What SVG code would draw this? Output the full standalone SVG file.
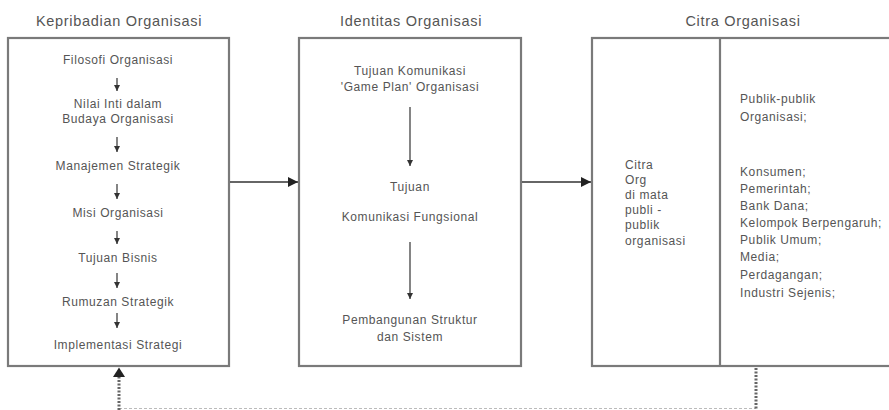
<svg xmlns="http://www.w3.org/2000/svg" width="889" height="410" viewBox="0 0 889 410">
<defs>
<marker id="big" viewBox="0 0 10 10" refX="10" refY="5" markerWidth="10" markerHeight="10" markerUnits="userSpaceOnUse" orient="auto"><path d="M0,0 L10,5 L0,10 Z" fill="#222"/></marker>
<marker id="small" viewBox="0 0 10 10" refX="10" refY="5" markerWidth="6" markerHeight="6" markerUnits="userSpaceOnUse" orient="auto"><path d="M0,0 L10,5 L0,10 Z" fill="#333"/></marker>
</defs>
<style>
.box{fill:#fff;stroke:#7a7a7a;stroke-width:2.2}
.title{font-family:"Liberation Sans",Arial,sans-serif;font-size:14.5px;letter-spacing:0.7px;fill:#555;text-anchor:middle}
.t{font-family:"Liberation Sans",Arial,sans-serif;font-size:12px;letter-spacing:0.6px;fill:#555}
.c{text-anchor:middle}
.ln{stroke:#333;stroke-width:1.2;fill:none}
.con{stroke:#333;stroke-width:1.5;fill:none}
.dash{stroke:#666;stroke-width:3;stroke-dasharray:2 1.5;fill:none}
.hdash{stroke:#bbb;stroke-width:1;stroke-dasharray:3 2;fill:none}
</style>
<rect width="889" height="410" fill="#fff"/>

<g id="kepribadian">
<text class="title" x="119" y="26">Kepribadian Organisasi</text>
<rect class="box" x="8" y="38" width="221" height="328"/>
<text class="t c" x="118" y="64">Filosofi Organisasi</text>
<line class="ln" x1="117" y1="78" x2="117" y2="91" marker-end="url(#small)"/>
<text class="t c" x="118" y="108">Nilai Inti dalam</text>
<text class="t c" x="118" y="123">Budaya Organisasi</text>
<line class="ln" x1="117" y1="137" x2="117" y2="152" marker-end="url(#small)"/>
<text class="t c" x="118" y="170">Manajemen Strategik</text>
<line class="ln" x1="117" y1="184" x2="117" y2="199" marker-end="url(#small)"/>
<text class="t c" x="118" y="217">Misi Organisasi</text>
<line class="ln" x1="117" y1="231" x2="117" y2="244" marker-end="url(#small)"/>
<text class="t c" x="118" y="262">Tujuan Bisnis</text>
<line class="ln" x1="117" y1="273" x2="117" y2="288" marker-end="url(#small)"/>
<text class="t c" x="118" y="306">Rumuzan Strategik</text>
<line class="ln" x1="117" y1="313" x2="117" y2="328" marker-end="url(#small)"/>
<text class="t c" x="118" y="349">Implementasi Strategi</text>
</g>

<g id="identitas">
<text class="title" x="411" y="26">Identitas Organisasi</text>
<rect class="box" x="299" y="38" width="222" height="328"/>
<text class="t c" x="410" y="75">Tujuan Komunikasi</text>
<text class="t c" x="410" y="91">'Game Plan' Organisasi</text>
<line class="ln" x1="410" y1="107" x2="410" y2="166" marker-end="url(#small)"/>
<text class="t c" x="410" y="191">Tujuan</text>
<text class="t c" x="410" y="221">Komunikasi Fungsional</text>
<line class="ln" x1="410" y1="242" x2="410" y2="299" marker-end="url(#small)"/>
<text class="t c" x="410" y="324">Pembangunan Struktur</text>
<text class="t c" x="410" y="341">dan Sistem</text>
</g>

<g id="citra">
<text class="title" x="743" y="26">Citra Organisasi</text>
<rect class="box" x="592" y="38" width="310" height="328"/>
<line class="box" x1="720" y1="38" x2="720" y2="366"/>
<text class="t" x="625" y="169">Citra</text>
<text class="t" x="625" y="184">Org</text>
<text class="t" x="625" y="199">di mata</text>
<text class="t" x="625" y="214">publi -</text>
<text class="t" x="625" y="229">publik</text>
<text class="t" x="625" y="245">organisasi</text>
<text class="t" x="740" y="103">Publik-publik</text>
<text class="t" x="740" y="121">Organisasi;</text>
<text class="t" x="740" y="176">Konsumen;</text>
<text class="t" x="740" y="193">Pemerintah;</text>
<text class="t" x="740" y="210">Bank Dana;</text>
<text class="t" x="740" y="227">Kelompok Berpengaruh;</text>
<text class="t" x="740" y="244">Publik Umum;</text>
<text class="t" x="740" y="261">Media;</text>
<text class="t" x="740" y="279">Perdagangan;</text>
<text class="t" x="740" y="297">Industri Sejenis;</text>
</g>

<g id="connectors">
<line class="con" x1="230" y1="182" x2="298" y2="182" marker-end="url(#big)"/>
<line class="con" x1="522" y1="182" x2="591" y2="182" marker-end="url(#big)"/>
<line class="hdash" x1="119" y1="408.5" x2="756" y2="408.5"/>
<line class="dash" x1="756" y1="368" x2="756" y2="410"/>
<line class="dash" x1="119" y1="410" x2="119" y2="377"/>
<path d="M113,377 L119,367.5 L125,377 Z" fill="#222"/>
</g>
</svg>
